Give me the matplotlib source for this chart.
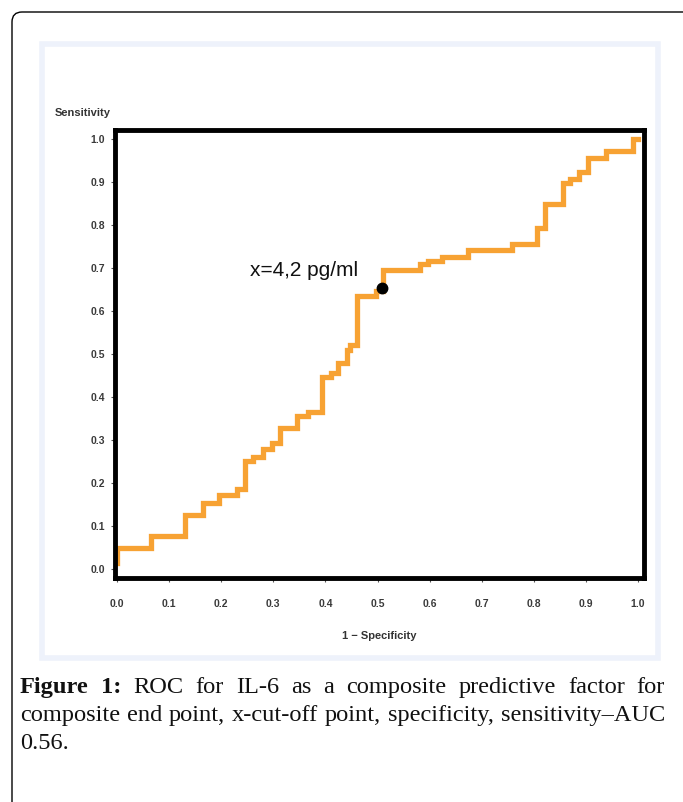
import matplotlib
matplotlib.use("Agg")
import matplotlib.pyplot as plt
from matplotlib.patches import FancyBboxPatch, Rectangle

# ROC corner points (steps-post): x where the curve rises, y level after the rise
fpr = [0.0, 0.0, 0.065, 0.13, 0.165, 0.196, 0.23, 0.246, 0.261, 0.28, 0.297,
       0.313, 0.345, 0.367, 0.393, 0.41, 0.424, 0.441, 0.447, 0.461, 0.497,
       0.51, 0.582, 0.597, 0.624, 0.674, 0.758, 0.806, 0.821, 0.856, 0.869,
       0.887, 0.904, 0.939, 0.99, 1.0]
tpr = [0.014, 0.049, 0.077, 0.126, 0.153, 0.172, 0.186, 0.25, 0.26, 0.279, 0.293,
       0.328, 0.356, 0.365, 0.447, 0.456, 0.479, 0.509, 0.521, 0.635, 0.646,
       0.695, 0.709, 0.716, 0.726, 0.742, 0.756, 0.793, 0.849, 0.898, 0.907,
       0.923, 0.956, 0.972, 1.0, 1.0]

cut_x, cut_y = 0.508, 0.653
cut_label = "x=4,2 pg/ml"

ticks = [0.0, 0.1, 0.2, 0.3, 0.4, 0.5, 0.6, 0.7, 0.8, 0.9, 1.0]
tick_labels = ["0.0", "0.1", "0.2", "0.3", "0.4", "0.5", "0.6", "0.7", "0.8", "0.9", "1.0"]

caption_lines = [
    [("Figure", "bold"), ("1:", "bold"), ("ROC", "normal"), ("for", "normal"), ("IL-6", "normal"),
     ("as", "normal"), ("a", "normal"), ("composite", "normal"), ("predictive", "normal"),
     ("factor", "normal"), ("for", "normal")],
    [(w, "normal") for w in "composite end point, x-cut-off point, specificity, sensitivity\u2013AUC".split()],
    [("0.56.", "normal")],
]

W, H = 683, 802
fig = plt.figure(figsize=(W / 100, H / 100), dpi=100)

# background layer in pixel units
bg = fig.add_axes([0, 0, 1, 1], zorder=0)
bg.set_xlim(0, W)
bg.set_ylim(H, 0)
bg.axis("off")
bg.add_patch(FancyBboxPatch((12, 12), W + 40, H + 40, boxstyle="round,pad=0,rounding_size=10",
                            fc="white", ec="black", lw=1.0))
bg.add_patch(Rectangle((42, 44), 616, 614, fc="white", ec="#eef2fb", lw=4))

sans = ["Liberation Sans Narrow", "Liberation Sans", "DejaVu Sans"]

ax = fig.add_axes([114.5 / W, (H - 578) / H, 529.5 / W, 448 / H], zorder=1)
ax.plot(fpr, tpr, drawstyle="steps-post", color="#f7a233", lw=3.8, solid_joinstyle="miter")
ax.plot([cut_x], [cut_y], "o", color="black", ms=7.5, zorder=3)
ax.text(0.463, 0.695, cut_label, ha="right", va="center", fontsize=15,
        family=sans, color="#111111")

ax.set_xlim(-0.0048, 1.0115)
ax.set_ylim(-0.021, 1.021)
ax.set_xticks(ticks)
ax.set_xticklabels(tick_labels)
ax.set_yticks(ticks)
ax.set_yticklabels(tick_labels)
for lab in ax.get_xticklabels() + ax.get_yticklabels():
    lab.set_family(sans)
    lab.set_fontsize(7.5)
    lab.set_fontweight("bold")
    lab.set_color("#3a3a3a")
ax.tick_params(axis="x", direction="out", length=3, width=0.8, color="#555555", pad=12)
ax.tick_params(axis="y", direction="out", length=3, width=0.8, color="#555555", pad=4)
for sp in ax.spines.values():
    sp.set_linewidth(3.5)
    sp.set_color("black")
ax.set_xlabel("1 \u2212 Specificity", family=sans, fontsize=8, fontweight="bold",
              color="#333333", labelpad=16)

# justified caption; font size chosen so the second line just fills the width
renderer = fig.canvas.get_renderer()
serif = ["Liberation Serif", "DejaVu Serif"]
left, right = 20, 665
probe = [bg.text(0, 0, w, fontsize=15, family=serif, fontweight=wt) for w, wt in caption_lines[1]]
space = bg.text(0, 0, "a a", fontsize=15, family=serif).get_window_extent(renderer).width - \
    2 * bg.text(0, 0, "a", fontsize=15, family=serif).get_window_extent(renderer).width
natural = sum(t.get_window_extent(renderer).width for t in probe) + space * (len(probe) - 1)
for t in list(bg.texts):
    t.remove()
cap_size = 15 * (right - left) / natural

baselines = [693, 721, 749]
for li, (words, base) in enumerate(zip(caption_lines, baselines)):
    texts = [bg.text(0, base, w, fontsize=cap_size, family=serif, fontweight=wt,
                     va="baseline", ha="left", color="#111111") for w, wt in words]
    widths = [t.get_window_extent(renderer).width for t in texts]
    if li < len(caption_lines) - 1 and len(texts) > 1:
        gap = (right - left - sum(widths)) / (len(texts) - 1)
    else:
        gap = 4.5
    x = left
    for t, wd in zip(texts, widths):
        t.set_x(x)
        x += wd + gap

bg.text(55, 113, "Sensitivity", ha="left", va="center", family=sans, fontsize=8,
        fontweight="bold", color="#333333")

fig.savefig("out.png", dpi=100)
